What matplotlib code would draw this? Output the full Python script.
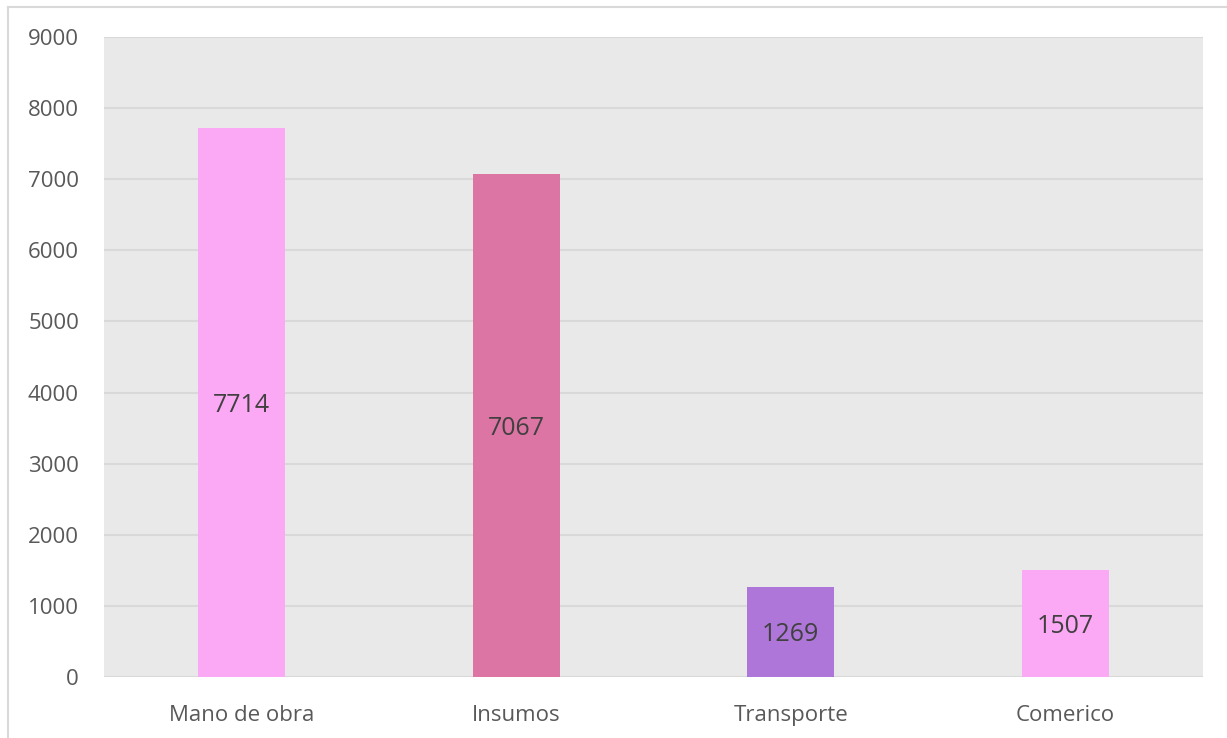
import matplotlib.pyplot as plt
from matplotlib.lines import Line2D

categories = ['Mano de obra', 'Insumos', 'Transporte', 'Comerico']
values = [7714, 7067, 1269, 1507]
colors = ['#FBA8F5', '#DC75A3', '#AE76D8', '#FBA8F5']
yticks = [0, 1000, 2000, 3000, 4000, 5000, 6000, 7000, 8000, 9000]

plt.rcParams['font.family'] = ['Open Sans', 'DejaVu Sans']

W, H = 1227, 738
fig = plt.figure(figsize=(W / 100, H / 100), dpi=100)
ax = fig.add_axes([104 / W, 1 - 677 / H, (1203 - 104) / W, (677 - 37) / H])
ax.set_facecolor('#E9E9E9')

x = range(len(categories))
bars = ax.bar(x, values, width=0.316, color=colors, zorder=3)
for b, v in zip(bars, values):
    ax.text(b.get_x() + b.get_width() / 2, v / 2, str(v), ha='center', va='center_baseline',
            fontsize=18, color='#404040', zorder=4)

ax.set_xlim(-0.5, len(categories) - 0.5)
ax.set_ylim(0, 9000)
ax.set_yticks(yticks)
ax.set_xticks(list(x))
ax.set_xticklabels(categories)
ax.tick_params(axis='both', length=0, labelsize=16, labelcolor='#595959')
ax.tick_params(axis='y', pad=18)
ax.tick_params(axis='x', pad=20)
ax.grid(axis='y', color='#D9D9D9', linewidth=1.5, zorder=0)
for s in ax.spines.values():
    s.set_visible(False)

# outer chart border (top and left visible)
fig.add_artist(Line2D([8 / W, 8 / W], [0, 1 - 7 / H], color='#D9D9D9', linewidth=1.5))
fig.add_artist(Line2D([8 / W, 1], [1 - 7 / H, 1 - 7 / H], color='#D9D9D9', linewidth=1.5))

fig.savefig('out.png', dpi=100)
